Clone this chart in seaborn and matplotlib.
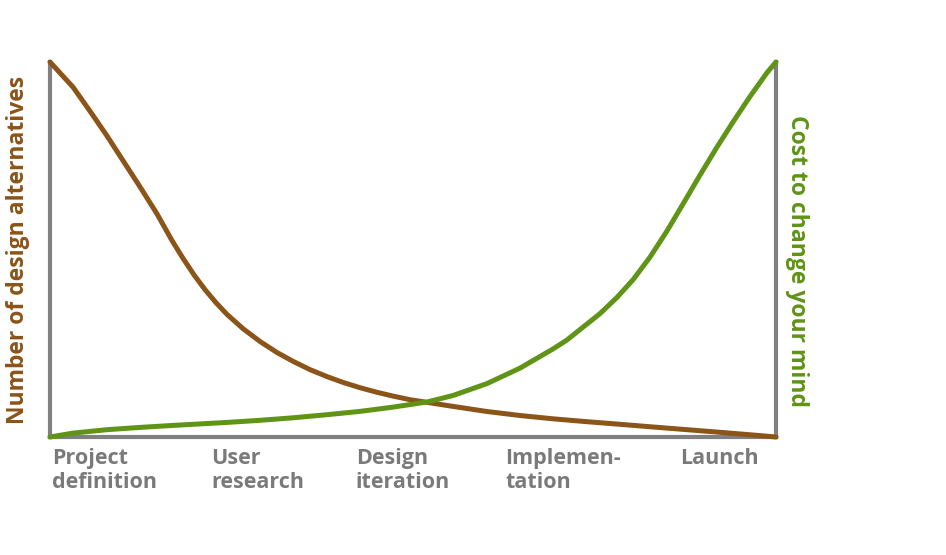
import pandas as pd
import matplotlib.pyplot as plt
import seaborn as sns

# stage positions along the process (0 = start, 100 = launch)
stage_pos = [0.3, 22.2, 42.1, 62.7, 86.8]
stage_labels = ['Project\ndefinition', 'User\nresearch', 'Design\niteration',
                'Implemen-\ntation', 'Launch']

# number of design alternatives
alt_x = [0, 3.17, 5.51, 7.85, 10.06, 12.40, 14.74, 16.80, 18.32, 19.83, 21.35,
         22.87, 24.38, 26.58, 28.93, 31.27, 33.47, 35.81, 38.15, 40.36, 42.70,
         45.04, 47.25, 49.59, 55.51, 60.19, 64.74, 69.28, 73.97, 78.51, 83.06,
         87.74, 92.29, 96.83, 100]
alt_y = [100, 93.3, 86.9, 80.3, 73.7, 66.7, 59.5, 52.4, 47.65, 43.25, 39.3,
         35.8, 32.7, 28.9, 25.47, 22.53, 20.19, 17.97, 16.11, 14.56, 13.15,
         11.92, 10.91, 9.95, 8.16, 6.8, 5.73, 4.85, 4.08, 3.39, 2.67,
         1.95, 1.25, 0.53, 0]

# cost to change your mind
cost_x = [0, 3.17, 7.85, 12.40, 16.94, 24.38, 28.93, 33.47, 38.15, 42.70,
          47.25, 51.93, 55.51, 60.19, 64.74, 69.28, 71.21, 75.76, 78.10, 80.30,
          82.64, 84.99, 87.19, 89.53, 91.87, 94.08, 96.42, 98.76, 100]
cost_y = [0, 1.04, 1.95, 2.56, 3.09, 3.89, 4.45, 5.12, 5.95, 6.83,
          7.97, 9.33, 11.07, 14.24, 18.37, 23.47, 25.87, 32.91, 37.23, 41.92,
          47.95, 54.96, 62.13, 69.84, 77.31, 84.0, 90.8, 97.15, 100]

brown = '#8B5418'
green = '#5F9416'
grey = '#808080'

df_alt = pd.DataFrame({'x': alt_x, 'y': alt_y})
df_cost = pd.DataFrame({'x': cost_x, 'y': cost_y})

sns.set_style('white')
plt.rcParams['font.family'] = ['Open Sans', 'DejaVu Sans']

fig = plt.figure(figsize=(9.46, 5.55), dpi=100)
ax = fig.add_axes([50/946, 118/555, 726/946, 375/555])

sns.lineplot(data=df_alt, x='x', y='y', ax=ax, color=brown, linewidth=3.6,
             clip_on=False, solid_capstyle='round', solid_joinstyle='round', zorder=3)
sns.lineplot(data=df_cost, x='x', y='y', ax=ax, color=green, linewidth=3.6,
             clip_on=False, solid_capstyle='round', solid_joinstyle='round', zorder=4)

ax.set_xlim(0, 100)
ax.set_ylim(0, 100)
ax.spines['top'].set_visible(False)
for side in ['left', 'right', 'bottom']:
    ax.spines[side].set_color(grey)
    ax.spines[side].set_linewidth(3)

ax.set_yticks([])
ax.set_xticks(stage_pos)
ax.set_xticklabels(stage_labels, ha='left', fontsize=15.5, fontweight='bold',
                   color='#7a7a7a', linespacing=1.15)
ax.tick_params(axis='x', length=0, pad=8)
ax.set_xlabel('')
ax.set_ylabel('')

# axis titles
fig.text(18/946, 1 - 250/555, 'Number of design alternatives', rotation=90,
         ha='center', va='center', color=brown, fontsize=16.5, fontweight='bold')
fig.text(797/946, 1 - 261/555, 'Cost to change your mind', rotation=-90,
         ha='center', va='center', color=green, fontsize=16.5, fontweight='bold')

plt.savefig('out.png', dpi=100)
